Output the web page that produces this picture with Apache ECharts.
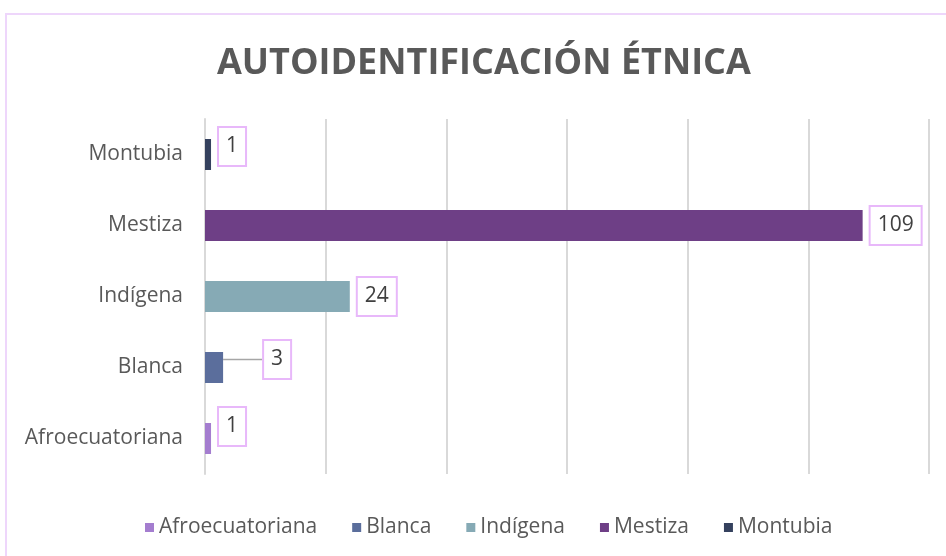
<!DOCTYPE html>
<html>
<head>
<meta charset="utf-8">
<script src="https://cdn.jsdelivr.net/npm/echarts@6/dist/echarts.min.js"></script>
<style>
  html, body { margin: 0; padding: 0; background: #fff; }
  #chart { width: 946px; height: 556px; }
</style>
</head>
<body>
<div id="chart"></div>
<script>
const categories = ['Afroecuatoriana', 'Blanca', 'Indígena', 'Mestiza', 'Montubia']
const values = [1, 3, 24, 109, 1]
const colors = ['#a47dcf', '#5b6e9c', '#86aab5', '#6e3f86', '#35415e']
// hand placed data labels (like the original)
const labelShift = [[0, -12], [33, -8], [0, 0], [0, 0], [0, -8]]

const font = 'Open Sans'

const chart = echarts.init(document.getElementById('chart'))

const series = categories.map((name, i) => ({
  name: name,
  type: 'bar',
  stack: 'total',
  barWidth: 31,
  color: colors[i],
  data: categories.map((c, j) => (j === i ? values[i] : '-')),
  label: {
    show: true,
    position: 'right',
    distance: 8,
    fontFamily: font,
    fontSize: 21,
    lineHeight: 24,
    color: '#404040',
    backgroundColor: '#fff',
    borderColor: '#e8b8fa',
    borderWidth: 2,
    padding: [7, 7, 6, 7]
  },
  labelLayout: { dx: labelShift[i][0], dy: labelShift[i][1] },
  labelLine: {
    show: labelShift[i][0] > 0,
    lineStyle: { color: '#a6a6a6', width: 1.5 }
  }
}))

chart.setOption({
  animation: false,
  title: {
    text: 'AUTOIDENTIFICACIÓN ÉTNICA',
    left: 212,
    top: 41,
    textStyle: {
      fontFamily: font,
      fontWeight: 'bold',
      fontSize: 36,
      color: '#595959'
    }
  },
  graphic: [{
    type: 'rect',
    shape: { x: 6, y: 14, width: 960, height: 560 },
    style: { fill: 'none', stroke: '#eed6fb', lineWidth: 2 },
    z: -1
  }],
  legend: {
    bottom: 13,
    left: 140,
    icon: 'rect',
    itemWidth: 9,
    itemHeight: 9,
    itemGap: 35,
    textStyle: { fontFamily: font, fontSize: 21, color: '#595959' },
    data: categories
  },
  grid: {
    left: 205,
    right: 17,
    top: 119,
    bottom: 82
  },
  xAxis: {
    type: 'value',
    min: 0,
    max: 120,
    interval: 20,
    axisLabel: { show: false },
    axisLine: { show: false },
    axisTick: { show: false },
    splitLine: { lineStyle: { color: '#d9d9d9', width: 2 } }
  },
  yAxis: {
    type: 'category',
    data: categories,
    axisLine: { lineStyle: { color: '#d9d9d9', width: 2 } },
    axisTick: { length: 6, lineStyle: { color: '#d9d9d9', width: 2 } },
    axisLabel: { fontFamily: font, fontSize: 21, color: '#595959', margin: 22 }
  },
  series: series
})
</script>
</body>
</html>
